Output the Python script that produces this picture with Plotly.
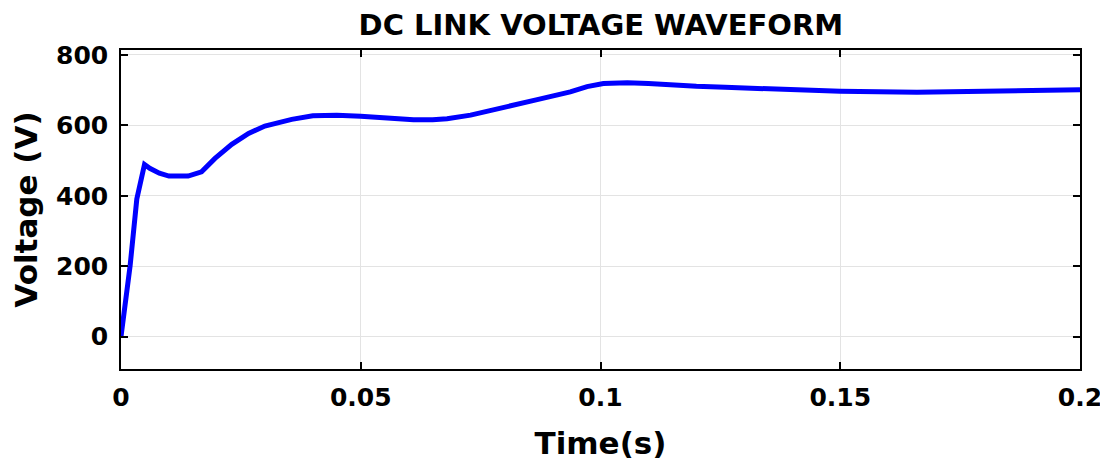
import plotly.graph_objects as go

# DC link voltage (time in s, voltage in V)
time_s = [0, 0.0019, 0.0033, 0.0045, 0.0049, 0.006, 0.008, 0.010, 0.012, 0.014,
          0.0168, 0.0196, 0.0231, 0.0266, 0.030, 0.0332, 0.0356, 0.040, 0.045,
          0.050, 0.055, 0.061, 0.065, 0.068, 0.0729, 0.0797, 0.0868, 0.0937,
          0.0972, 0.1006, 0.1056, 0.110, 0.114, 0.120, 0.126, 0.140, 0.150,
          0.166, 0.178, 0.190, 0.200]
voltage = [0, 201, 391, 470, 489, 478, 464, 456, 455, 456,
           468, 506, 546, 577, 598, 609, 617, 627, 629,
           626, 621, 616, 616, 619, 629, 652, 673, 695,
           710, 719, 721, 719, 715, 711, 708, 702, 697,
           694, 697, 700, 701]

x_ticks = [0, 0.05, 0.1, 0.15, 0.2]
x_ticktext = ["0", "0.05", "0.1", "0.15", "0.2"]
y_ticks = [0, 200, 400, 600, 800]

FONT = "DejaVu Sans"
GRID = "#e3e3e3"

fig = go.Figure()
fig.add_trace(go.Scatter(
    x=time_s, y=voltage,
    mode="lines",
    line=dict(color="#0000ff", width=5),
    showlegend=False,
))

# faint bits of a watermark cut off at the top edge
for x0, x1, col in [(0.228, 0.270, "#d6d6d6"), (0.447, 0.487, "#ddd3ef"),
                    (0.590, 0.645, "#ddd3ef"), (0.698, 0.743, "#d6d6d6")]:
    fig.add_shape(type="path", xref="paper", yref="paper", layer="below",
                  path=f"M {x0},1.16 L {x1},1.16 L {x1 - 0.008},1.14 L {x0 + 0.008},1.14 Z",
                  fillcolor=col, line=dict(width=0))

axis_common = dict(
    automargin=False,
    showgrid=True, gridcolor=GRID, gridwidth=1,
    showline=True, linecolor="black", linewidth=1.5,
    mirror="ticks", ticks="inside", ticklen=7, tickwidth=1.5, tickcolor="black",
    zeroline=False, ticklabeloverflow="allow",
    tickfont=dict(family=FONT, size=25, color="black", weight="bold"),
)

fig.update_layout(
    width=1100, height=455,
    paper_bgcolor="white", plot_bgcolor="white",
    margin=dict(l=113, r=28, t=42, b=94),
    title=dict(text="<b>DC LINK VOLTAGE WAVEFORM</b>", x=0.539, xanchor="center",
               y=0.962, yanchor="middle",
               font=dict(family=FONT, size=29, color="black")),
    xaxis=dict(range=[0, 0.2], tickvals=x_ticks, ticktext=x_ticktext,
               ticklabelstandoff=5,
               title=dict(text="<b>Time(s)</b>", standoff=22,
                          font=dict(family=FONT, size=31, color="black")),
               **axis_common),
    yaxis=dict(range=[-92, 814], tickvals=y_ticks,
               ticklabelstandoff=6,
               title=dict(text="<b>Voltage (V)</b>", standoff=15,
                          font=dict(family=FONT, size=31, color="black")),
               **axis_common),
)

fig.write_html("out.html")
